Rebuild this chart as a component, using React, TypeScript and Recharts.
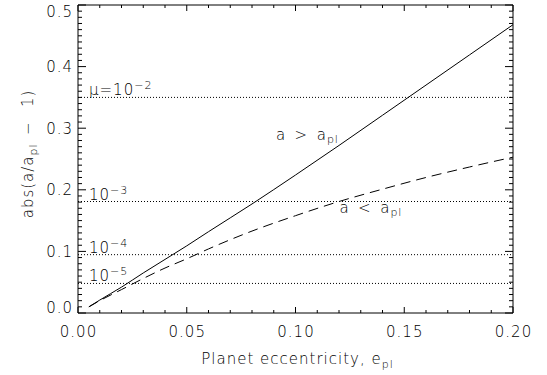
import React from 'react';
import { LineChart, Line, XAxis, YAxis, ReferenceLine, ReferenceDot, Label } from 'recharts';

// Planet eccentricity (x)
const eccentricity = [0.005, 0.01, 0.02, 0.03, 0.04, 0.05, 0.06, 0.08, 0.10, 0.12, 0.14, 0.16, 0.18, 0.20];
// abs(a/a_pl - 1) for a > a_pl (solid)
const outerRatio = [0.010, 0.021, 0.042, 0.065, 0.087, 0.109, 0.132, 0.177, 0.224, 0.272, 0.321, 0.370, 0.419, 0.468];
// abs(a/a_pl - 1) for a < a_pl (dashed)
const innerRatio = [0.010, 0.020, 0.038, 0.056, 0.073, 0.088, 0.104, 0.133, 0.158, 0.181, 0.201, 0.220, 0.237, 0.253];

// mass-ratio reference levels
const muLevels = [0.35, 0.181, 0.0947, 0.048];
const muPrefix = ['\u03bc=10', '10', '10', '10'];
const muExponents = ['\u22122', '\u22123', '\u22124', '\u22125'];

// region annotations (data coordinates)
const annE = [0.091, 0.1202];
const annR = [0.281, 0.162];
const annRel = ['>', '<'];

const X_MIN = 0;
const X_MAX = 0.2;
const Y_MIN = 0;
const Y_MAX = 0.5;
const xMajorTicks = [0, 0.05, 0.10, 0.15, 0.20];
const yMajorTicks = [0, 0.1, 0.2, 0.3, 0.4, 0.5];
const xMinorTicks = Array.from({ length: 21 }, (_, i) => i / 100);
const yMinorTicks = Array.from({ length: 51 }, (_, i) => i / 100);

const data = eccentricity.map((e, i) => ({ e, outer: outerRatio[i], inner: innerRatio[i] }));

// plot-area size (px) used to convert tick-mark lengths into data units
const PLOT_W = 435;
const PLOT_H = 308;
const px2x = (p: number) => (p * (X_MAX - X_MIN)) / PLOT_W;
const px2y = (p: number) => (p * (Y_MAX - Y_MIN)) / PLOT_H;

const FONT = "'DejaVu Sans', 'Liberation Sans', sans-serif";
const TXT: React.CSSProperties = { fontFamily: FONT, fontSize: 15, fill: '#000', letterSpacing: 1, fontWeight: 200 };

function BottomLabel(props: any) {
  const { x, y, payload } = props;
  return (
    <text x={x + 0.5} y={y + 24} textAnchor="middle" style={TXT}>
      {payload.value.toFixed(2)}
    </text>
  );
}

function LeftLabel(props: any) {
  const { x, y, payload } = props;
  const v = payload.value;
  let base = y + 5.5;
  if (Math.abs(v) < 1e-6) base = y - 0.5;
  if (Math.abs(v - 0.5) < 1e-6) base = y + 12;
  return (
    <text x={x - 5} y={base} textAnchor="end" style={TXT}>
      {v.toFixed(1)}
    </text>
  );
}

const xTitle = (p: any) => {
  const vb = p.viewBox;
  const cx = vb.x + vb.width / 2;
  return (
    <text x={cx + 2} y={364} textAnchor="middle" style={TXT}>
      Planet eccentricity, e
      <tspan fontSize={11} dy={4}>pl</tspan>
    </text>
  );
};

const yTitle = () => {
  const cy = 154;
  const bx = 33;
  return (
    <text x={bx} y={cy} textAnchor="middle" transform={`rotate(-90, ${bx}, ${cy})`} style={TXT}>
      abs(a/a
      <tspan fontSize={11} dy={4}>pl</tspan>
      <tspan dy={-4}>{'\u2002\u2212\u2002 1)'}</tspan>
    </text>
  );
};

const muLabel = (i: number) => (p: any) => {
  const vb = p.viewBox;
  return (
    <text x={vb.x + 11} y={vb.y - 2} style={TXT}>
      {muPrefix[i]}
      <tspan fontSize={11} dy={-6}>{muExponents[i]}</tspan>
    </text>
  );
};

const regionLabel = (i: number) => (p: any) => {
  const vb = p.viewBox;
  return (
    <text x={vb.x} y={vb.y} style={TXT}>
      {'a\u2002' + annRel[i] + '\u2002a'}
      <tspan fontSize={11} dy={3}>pl</tspan>
    </text>
  );
};

const BLACK = { stroke: '#000', strokeWidth: 1 } as any;

// inward tick marks as short reference segments in data space
const tickSegments: any[] = [];
xMinorTicks.forEach((v) => {
  const major = xMajorTicks.some((t) => Math.abs(t - v) < 1e-6);
  const len = px2y(major ? 6 : 3);
  tickSegments.push([{ x: v, y: Y_MIN }, { x: v, y: Y_MIN + len }]);
  tickSegments.push([{ x: v, y: Y_MAX }, { x: v, y: Y_MAX - len }]);
});
yMinorTicks.forEach((v) => {
  const major = yMajorTicks.some((t) => Math.abs(t - v) < 1e-6);
  const len = px2x(major ? 8 : 4);
  tickSegments.push([{ x: X_MIN, y: v }, { x: X_MIN + len, y: v }]);
  tickSegments.push([{ x: X_MAX, y: v }, { x: X_MAX - len, y: v }]);
});

export default function App() {
  return (
    <div style={{ position: 'absolute', left: 0, top: 0, background: '#fff' }}>
      <LineChart
        width={547}
        height={375}
        data={data}
        margin={{ top: 5, right: 34, bottom: 0, left: 0 }}
      >
        <XAxis
          dataKey="e"
          type="number"
          domain={[X_MIN, X_MAX]}
          ticks={xMajorTicks}
          interval={0}
          tickSize={0}
          tickMargin={0}
          tickLine={false}
          axisLine={BLACK}
          stroke="#000"
          tick={<BottomLabel />}
          height={62}
          allowDataOverflow
          label={<Label content={xTitle} />}
        />
        <YAxis
          type="number"
          domain={[Y_MIN, Y_MAX]}
          ticks={yMajorTicks}
          interval={0}
          tickSize={0}
          tickMargin={0}
          tickLine={false}
          axisLine={BLACK}
          stroke="#000"
          tick={<LeftLabel />}
          width={78}
          allowDataOverflow
          label={<Label content={yTitle} />}
        />
        {/* top and right frame */}
        <ReferenceLine y={Y_MAX} stroke="#000" strokeWidth={1} ifOverflow="visible" />
        <ReferenceLine x={X_MAX} stroke="#000" strokeWidth={1} ifOverflow="visible" />
        {tickSegments.map((seg, i) => (
          <ReferenceLine key={'t' + i} segment={seg} stroke="#000" strokeWidth={1} ifOverflow="visible" />
        ))}
        {muLevels.map((lvl, i) => (
          <ReferenceLine
            key={'mu' + i}
            y={lvl}
            stroke="#000"
            strokeWidth={1}
            strokeDasharray="1 2"
            label={<Label content={muLabel(i)} />}
          />
        ))}
        <Line type="monotone" dataKey="outer" stroke="#000" strokeWidth={1} dot={false} isAnimationActive={false} />
        <Line type="monotone" dataKey="inner" stroke="#000" strokeWidth={1} strokeDasharray="10 6" dot={false} isAnimationActive={false} />
        {annE.map((e, i) => (
          <ReferenceDot
            key={'ann' + i}
            x={e}
            y={annR[i]}
            r={0}
            fill="none"
            stroke="none"
            label={<Label content={regionLabel(i)} />}
          />
        ))}
      </LineChart>
    </div>
  );
}
